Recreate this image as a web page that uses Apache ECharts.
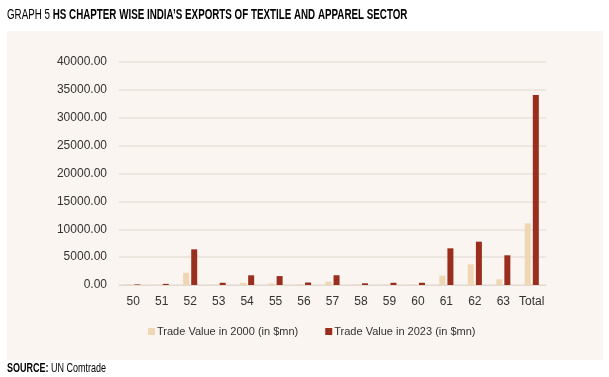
<!DOCTYPE html>
<html>
<head>
<meta charset="utf-8">
<script src="https://cdn.jsdelivr.net/npm/echarts@6/dist/echarts.min.js"></script>
<style>
  html, body { margin: 0; padding: 0; background: #fff; }
  #chart { width: 609px; height: 377px; }
</style>
</head>
<body>
<div id="chart"></div>
<script>
// HS chapters
var categories = ['50', '51', '52', '53', '54', '55', '56', '57', '58', '59', '60', '61', '62', '63', 'Total'];
var legendNames = ['Trade Value in 2000 (in $mn)', 'Trade Value in 2023 (in $mn)'];
// values
var value2000 = [150, 50, 2200, 60, 400, 300, 120, 600, 100, 80, 60, 1670, 3710, 1020, 11070];
var value2023 = [100, 200, 6400, 400, 1740, 1600, 450, 1750, 300, 400, 400, 6580, 7770, 5330, 34100];
var yTicks = [0, 5000, 10000, 15000, 20000, 25000, 30000, 35000, 40000];

var font = "'Liberation Sans Narrow', 'Liberation Sans', sans-serif";
var chart = echarts.init(document.getElementById('chart'));

var option = {
    backgroundColor: '#ffffff',
    textStyle: { fontFamily: font },
    graphic: [
        {
            type: 'rect',
            shape: { x: 7, y: 31, width: 596, height: 329 },
            style: { fill: '#faf5f0' },
            z: -10
        },
        {
            type: 'text',
            x: 7,
            y: 8,
            scaleX: 0.7,
            style: {
                text: '{a|GRAPH 5 }{b|HS CHAPTER WISE INDIA\u2019S EXPORTS OF TEXTILE AND APPAREL SECTOR}',
                rich: {
                    a: { fontFamily: font, fontSize: 14, color: '#666' },
                    b: { fontFamily: font, fontSize: 14, fontWeight: 'bold', color: '#222' }
                }
            }
        },
        {
            type: 'text',
            x: 7,
            y: 363,
            scaleX: 0.75,
            style: {
                text: '{a|SOURCE: }{b|UN Comtrade}',
                rich: {
                    a: { fontFamily: font, fontSize: 12, fontWeight: 'bold', color: '#222' },
                    b: { fontFamily: font, fontSize: 12, color: '#444' }
                }
            }
        }
    ],
    legend: {
        data: legendNames,
        top: 321,
        left: 143,
        itemWidth: 7,
        itemHeight: 7,
        itemGap: 27,
        icon: 'rect',
        textStyle: { color: '#333', fontSize: 11, fontFamily: font, padding: [0, 0, 0, -3] }
    },
    grid: {
        left: 119,
        right: 63,
        top: 62,
        height: 223,
        containLabel: false
    },
    xAxis: {
        type: 'category',
        data: categories,
        axisLine: { show: true, lineStyle: { color: '#e2d9d0' } },
        axisTick: { show: false },
        axisLabel: { color: '#333', fontSize: 12, margin: 11, fontFamily: font, interval: 0 }
    },
    yAxis: {
        type: 'value',
        min: yTicks[0],
        max: yTicks[yTicks.length - 1],
        interval: 5000,
        axisLine: { show: false },
        axisTick: { show: false },
        splitLine: { lineStyle: { color: '#e8e0d8', width: 1.5 } },
        axisLabel: {
            color: '#333',
            fontSize: 12,
            margin: 12,
            fontFamily: font,
            formatter: function (v) { return v.toFixed(2); }
        }
    },
    series: [
        {
            name: legendNames[0],
            type: 'bar',
            data: value2000,
            barWidth: 6,
            barGap: '35%',
            itemStyle: { color: '#f0d7b4' }
        },
        {
            name: legendNames[1],
            type: 'bar',
            data: value2023,
            barWidth: 6,
            barGap: '35%',
            itemStyle: { color: '#9a2e1e' }
        }
    ]
};
chart.setOption(option);
</script>
</body>
</html>
